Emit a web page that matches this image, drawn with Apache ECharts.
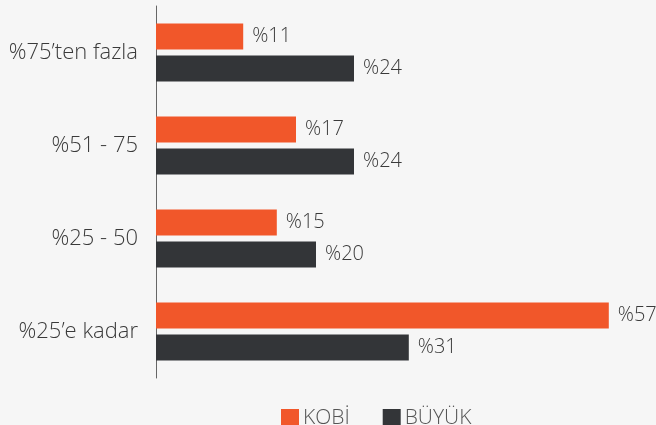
<!DOCTYPE html>
<html>
<head>
<meta charset="utf-8">
<script src="https://cdn.jsdelivr.net/npm/echarts@6/dist/echarts.min.js"></script>
<style>
  html, body { margin: 0; padding: 0; background: #f6f6f6; }
  #chart { width: 656px; height: 425px; }
</style>
</head>
<body>
<div id="chart"></div>
<script>
// categories top to bottom
const categories = ["%75’ten fazla", "%51 - 75", "%25 - 50", "%25’e kadar"];
// bar lengths
const kobiValues = [10.9, 17.5, 15.1, 56.6];
const buyukValues = [24.75, 24.75, 20, 31.6];
// printed labels
const kobiLabels = ["%11", "%17", "%15", "%57"];
const buyukLabels = ["%24", "%24", "%20", "%31"];

const chart = echarts.init(document.getElementById("chart"));

const labelStyle = (texts) => ({
  show: true,
  position: "right",
  distance: 9,
  color: "#3a3a3a",
  fontFamily: "Open Sans",
  fontWeight: 300,
  fontSize: 20,
  formatter: (p) => texts[p.dataIndex]
});

chart.setOption({
  backgroundColor: "#f6f6f6",
  animation: false,
  grid: {
    left: 156,
    top: 6,
    width: 480,
    height: 372
  },
  legend: {
    left: 276,
    top: 403,
    itemWidth: 18,
    itemHeight: 19,
    itemGap: 33,
    icon: "rect",
    textStyle: {
      color: "#555",
      fontFamily: "Open Sans",
      fontWeight: 300,
      fontSize: 21,
      padding: [0, 0, 0, -1]
    },
    data: ["KOBİ", "BÜYÜK"]
  },
  xAxis: {
    type: "value",
    min: 0,
    max: 60,
    show: false
  },
  yAxis: {
    type: "category",
    inverse: true,
    data: categories,
    axisLine: { lineStyle: { color: "#666", width: 1 } },
    axisTick: { show: false },
    axisLabel: {
      margin: 18,
      color: "#3a3a3a",
      fontFamily: "Open Sans",
      fontWeight: 300,
      fontSize: 22
    }
  },
  series: [
    {
      name: "KOBİ",
      type: "bar",
      data: kobiValues,
      barWidth: 26,
      barGap: "23%",
      itemStyle: { color: "#f1572a" },
      label: labelStyle(kobiLabels)
    },
    {
      name: "BÜYÜK",
      type: "bar",
      data: buyukValues,
      barWidth: 26,
      itemStyle: { color: "#333538" },
      label: labelStyle(buyukLabels)
    }
  ]
});
</script>
</body>
</html>
